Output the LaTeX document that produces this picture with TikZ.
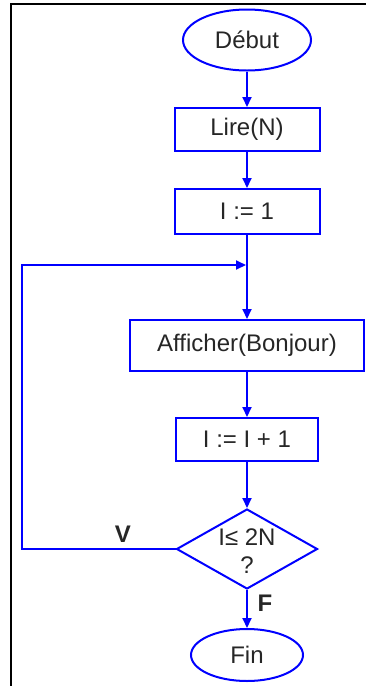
\documentclass[tikz,border=0pt]{standalone}
\usepackage{fontspec}
\setmainfont{Liberation Sans}
\usetikzlibrary{shapes.geometric,arrows.meta}
\tikzset{
  flow/.style={draw=blue, line width=2pt, inner sep=0pt, font=\fontsize{24}{28}\selectfont, text=black!85},
  boxst/.style={flow, rectangle},
  ovalst/.style={flow, ellipse},
  decst/.style={flow, diamond},
  txt/.style={inner sep=0pt, font=\fontsize{24}{28}\selectfont, text=black!85, align=center},
  lab/.style={inner sep=0pt, font=\bfseries\fontsize{24}{26}\selectfont, text=black!85},
  arr/.style={draw=blue, line width=2pt, -{Triangle[length=10pt,width=9pt]}},
  ln/.style={draw=blue, line width=2pt},
  frame/.style={draw=black, line width=2pt}
}
\begin{document}
\begin{tikzpicture}[x=1pt,y=-1pt]
\useasboundingbox (0,0) rectangle (368,686);
% frame
\coordinate (fa) at (11,686);
\coordinate (fb) at (11,4);
\coordinate (fc) at (366,4);
\draw[frame] (fa) -- (fb) -- (fc);
% nodes
\node[ovalst, minimum width=128pt, minimum height=61pt] (deb) at (247,40) {Début};
\node[boxst, minimum width=145pt, minimum height=43pt] (lire) at (247,129.5) {Lire(N)};
\node[boxst, minimum width=145pt, minimum height=45pt] (init) at (247,211.5) {I := 1};
\node[boxst, minimum width=234pt, minimum height=51pt] (aff) at (247,345.5) {Afficher(Bonjour)};
\node[boxst, minimum width=142pt, minimum height=43pt] (inc) at (247,439.5) {I := I + 1};
\node[decst, minimum width=141pt, minimum height=80pt] (dec) at (247,549) {};
\node[txt] (dectxt) at (247,551) {I≤ 2N\\?};
\node[ovalst, minimum width=112pt, minimum height=52pt] (fin) at (247,655) {Fin};
% connectors
\coordinate (join) at (247,265);
\coordinate (corner) at (22,265);
\draw[arr] (deb) -- (lire);
\draw[arr] (lire) -- (init);
\draw[arr] (init) -- (aff);
\draw[arr] (aff) -- (inc);
\draw[arr] (inc) -- (dec);
\draw[arr] (dec) -- (fin);
\draw[arr] (dec.west) -| (corner) -- ([xshift=-1pt]join);
% labels
\node[lab] (vlab) at (123,534) {V};
\node[lab] (flab) at (265,603) {F};
\end{tikzpicture}
\end{document}
